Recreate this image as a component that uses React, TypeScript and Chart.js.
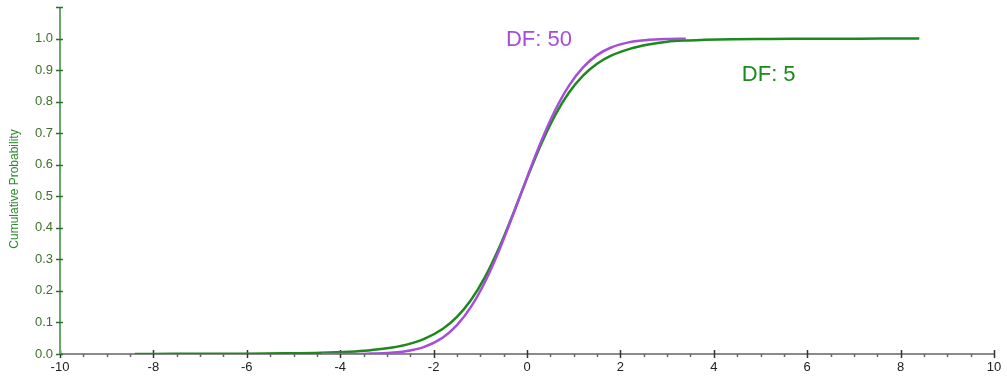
import React, { useEffect, useRef } from "react";
import { Chart, registerables } from "chart.js";

Chart.register(...registerables);

// x positions (t values) and cumulative probabilities
const xDf5 = [-8.4, -7.6, -6.8, -6, -5.2, -4.4, -3.8, -3.4, -3.0, -2.6, -2.2, -1.8, -1.5, -1.2, -0.9, -0.6, -0.3, 0, 0.3, 0.6, 0.9, 1.2, 1.5, 1.8, 2.2, 2.6, 3.0, 3.4, 3.8, 4.4, 5.2, 6, 6.8, 7.6, 8.4];
const yDf5 = [0.0002, 0.0004, 0.0006, 0.001, 0.002, 0.004, 0.0074, 0.0113, 0.0179, 0.029, 0.0478, 0.0799, 0.1174, 0.1709, 0.2435, 0.3358, 0.4433, 0.5567, 0.6642, 0.7565, 0.8291, 0.8826, 0.9201, 0.9457, 0.9672, 0.981, 0.99, 0.994, 0.996, 0.998, 0.9988, 0.9993, 0.9996, 0.9998, 0.9999];

const xDf50 = [-4.4, -3.8, -3.4, -3.0, -2.6, -2.2, -1.8, -1.5, -1.2, -0.9, -0.6, -0.3, 0, 0.3, 0.6, 0.9, 1.2, 1.5, 1.8, 2.2, 2.6, 3.0, 3.4];
const yDf50 = [0.0, 0.0003, 0.0011, 0.0032, 0.0089, 0.0228, 0.0526, 0.0915, 0.1494, 0.2283, 0.3273, 0.4407, 0.5593, 0.6727, 0.7717, 0.8506, 0.9085, 0.9474, 0.9716, 0.9886, 0.9958, 0.9986, 0.9996];

const xTicks = [-10, -8, -6, -4, -2, 0, 2, 4, 6, 8, 10];
const yTicks = [0, 0.1, 0.2, 0.3, 0.4, 0.5, 0.6, 0.7, 0.8, 0.9, 1.0, 1.1];

const seriesLabels = ["DF: 5", "DF: 50"];
const yTitle = "Cumulative Probability";

const GREEN = "#1b8a1b";
const PURPLE = "#a64ddb";
const FONT = "Arial, 'Liberation Sans', sans-serif";

const axesPlugin = {
  id: "customAxes",
  beforeDatasetsDraw(chart: any) {
    const { ctx, chartArea, scales } = chart;
    const xs = scales.x;
    const ys = scales.y;
    const x0 = chartArea.left;
    const yb = chartArea.bottom;
    ctx.save();
    // y title
    ctx.save();
    ctx.translate(15, 189);
    ctx.rotate(-Math.PI / 2);
    ctx.font = `12px ${FONT}`;
    ctx.fillStyle = "#2a8a2a";
    ctx.textAlign = "center";
    ctx.textBaseline = "middle";
    ctx.fillText(yTitle, 0, 0);
    ctx.restore();
    // x axis line
    ctx.strokeStyle = "#8a8a8a";
    ctx.lineWidth = 2;
    ctx.beginPath();
    ctx.moveTo(x0, yb);
    ctx.lineTo(chartArea.right, yb);
    ctx.stroke();
    // minor x ticks
    ctx.strokeStyle = "#666";
    ctx.lineWidth = 1.5;
    for (let v = -10; v <= 10.001; v += 0.5) {
      if (Math.abs(v % 2) < 1e-6) continue;
      const px = Math.round(xs.getPixelForValue(v)) + 0.5;
      ctx.beginPath();
      ctx.moveTo(px, yb);
      ctx.lineTo(px, yb + 3);
      ctx.stroke();
    }
    // major x ticks
    ctx.strokeStyle = "#333";
    ctx.lineWidth = 1.5;
    xTicks.forEach((v) => {
      const px = Math.round(xs.getPixelForValue(v)) + 0.5;
      ctx.beginPath();
      ctx.moveTo(px, yb - 4);
      ctx.lineTo(px, yb + 4);
      ctx.stroke();
    });
    // y axis line
    ctx.strokeStyle = "#6aa86a";
    ctx.lineWidth = 2;
    ctx.beginPath();
    ctx.moveTo(x0, chartArea.top);
    ctx.lineTo(x0, yb);
    ctx.stroke();
    // y ticks
    ctx.strokeStyle = "#2f6f2f";
    ctx.lineWidth = 1.5;
    yTicks.forEach((v) => {
      const py = Math.round(ys.getPixelForValue(v)) + 0.5;
      ctx.beginPath();
      ctx.moveTo(x0 - 4, py);
      ctx.lineTo(x0 + 3, py);
      ctx.stroke();
    });
    ctx.restore();
  },
  afterDatasetsDraw(chart: any) {
    const { ctx, scales } = chart;
    ctx.save();
    ctx.font = `22px ${FONT}`;
    ctx.textBaseline = "middle";
    ctx.textAlign = "left";
    ctx.fillStyle = PURPLE;
    ctx.fillText(seriesLabels[1], scales.x.getPixelForValue(-0.45), scales.y.getPixelForValue(0.997));
    ctx.fillStyle = GREEN;
    ctx.fillText(seriesLabels[0], scales.x.getPixelForValue(4.6), scales.y.getPixelForValue(0.886));
    ctx.restore();
  },
};

export default function App() {
  const ref = useRef<HTMLCanvasElement>(null);
  useEffect(() => {
    document.body.style.margin = "0";
    const chart = new Chart(ref.current as HTMLCanvasElement, {
      type: "line",
      data: {
        datasets: [
          {
            label: seriesLabels[1],
            data: xDf50.map((x, i) => ({ x, y: yDf50[i] })),
            borderColor: PURPLE,
            borderWidth: 2.5,
            pointRadius: 0,
            cubicInterpolationMode: "monotone",
            fill: false,
          },
          {
            label: seriesLabels[0],
            data: xDf5.map((x, i) => ({ x, y: yDf5[i] })),
            borderColor: GREEN,
            borderWidth: 2.5,
            pointRadius: 0,
            cubicInterpolationMode: "monotone",
            fill: false,
          },
        ],
      },
      options: {
        animation: false,
        responsive: false,
        maintainAspectRatio: false,
        layout: { padding: { top: 7, right: 13, left: 0, bottom: 0 } },
        plugins: { legend: { display: false }, tooltip: { enabled: false } },
        scales: {
          x: {
            type: "linear",
            min: -10,
            max: 10,
            afterBuildTicks: (s: any) => {
              s.ticks = xTicks.map((v) => ({ value: v }));
            },
            afterFit: (s: any) => {
              s.height = 29;
              s.paddingLeft = 0;
              s.paddingRight = 0;
            },
            grid: { display: false, drawTicks: false },
            border: { display: false },
            ticks: {
              padding: 6,
              color: "#222",
              font: { family: FONT, size: 13 },
              maxRotation: 0,
              autoSkip: false,
            },
          },
          y: {
            type: "linear",
            min: 0,
            max: 1.1,
            afterBuildTicks: (s: any) => {
              s.ticks = yTicks.map((v) => ({ value: v }));
            },
            afterFit: (s: any) => {
              s.width = 60;
              s.paddingTop = 0;
              s.paddingBottom = 0;
            },
            grid: { display: false, drawTicks: false },
            border: { display: false },
            ticks: {
              padding: 7,
              color: "#3f6f2a",
              font: { family: FONT, size: 13 },
              autoSkip: false,
              callback: (v: any) => (Math.abs(v - 1.1) < 1e-6 ? "" : Number(v).toFixed(1)),
            },
          },
        },
      },
      plugins: [axesPlugin],
    });
    return () => chart.destroy();
  }, []);
  return (
    <div style={{ position: "absolute", left: 0, top: 0, width: 1007, height: 383, background: "#fff" }}>
      <canvas ref={ref} width={1007} height={383} />
    </div>
  );
}
